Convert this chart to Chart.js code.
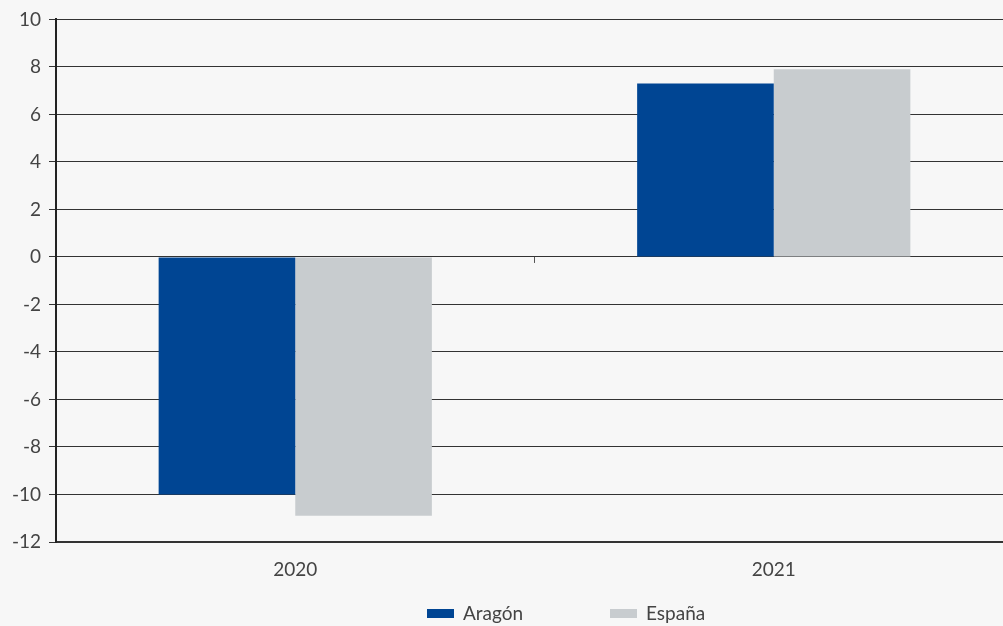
<!DOCTYPE html>
<html>
<head>
<meta charset="utf-8">
<script src="https://cdn.jsdelivr.net/npm/chart.js@4/dist/chart.umd.min.js"></script>
<style>
  html, body { margin: 0; padding: 0; background: #f7f7f7; overflow: hidden; }
  #wrap { width: 1013px; height: 626px; position: relative; }
</style>
</head>
<body>
<div id="wrap"><canvas id="c"></canvas></div>
<script>
const categories = ['2020', '2021'];
const aragon = [-10.0, 7.3];
const espana = [-10.9, 7.9];
const seriesNames = ['Aragón', 'España'];
const seriesColors = ['#004593', '#c8cccf'];

const textColor = '#444444';
const fontFamily = 'Lato, "Open Sans", sans-serif';

// Legend drawn under the plot, plus a small tick on the zero line between years
const extras = {
  id: 'extras',
  afterDraw(chart) {
    const ctx = chart.ctx;
    const x = chart.scales.x, y = chart.scales.y;
    const y0 = y.getPixelForValue(0);
    ctx.save();
    ctx.strokeStyle = '#555';
    ctx.lineWidth = 1;
    const mid = (x.getPixelForValue(0) + x.getPixelForValue(1)) / 2;
    ctx.beginPath();
    ctx.moveTo(Math.round(mid) - 0.5, y0);
    ctx.lineTo(Math.round(mid) - 0.5, y0 + 6);
    ctx.stroke();

    const starts = [427, 610];
    ctx.font = '19px ' + fontFamily;
    ctx.textBaseline = 'middle';
    chart.data.datasets.forEach((ds, i) => {
      const bx = starts[i];
      ctx.fillStyle = ds.backgroundColor;
      ctx.fillRect(bx, 609, 27, 9);
      ctx.fillStyle = textColor;
      ctx.fillText(ds.label, bx + 36, 614);
    });
    ctx.restore();
  }
};

new Chart(document.getElementById('c'), {
  type: 'bar',
  data: {
    labels: categories,
    datasets: [
      { label: seriesNames[0], data: aragon, backgroundColor: seriesColors[0] },
      { label: seriesNames[1], data: espana, backgroundColor: seriesColors[1] }
    ]
  },
  options: {
    responsive: true,
    maintainAspectRatio: false,
    animation: false,
    layout: { padding: { top: 18, right: 0, bottom: 0, left: 0 } },
    datasets: { bar: { categoryPercentage: 0.571, barPercentage: 1.0 } },
    plugins: { legend: { display: false }, tooltip: { enabled: false } },
    scales: {
      x: {
        grid: { display: false },
        border: { display: true, color: '#333', width: 2 },
        ticks: { color: textColor, font: { family: fontFamily, size: 19 }, padding: 8 },
        afterFit(s) { s.height = 84; }
      },
      y: {
        min: -12, max: 10,
        ticks: { stepSize: 2, color: textColor, font: { family: fontFamily, size: 19 }, padding: 8 },
        grid: { color: '#333', lineWidth: 1, tickLength: 7, tickColor: '#333' },
        border: { display: true, color: '#222', width: 2 },
        afterFit(s) { s.width = 56; }
      }
    }
  },
  plugins: [extras]
});
</script>
</body>
</html>
